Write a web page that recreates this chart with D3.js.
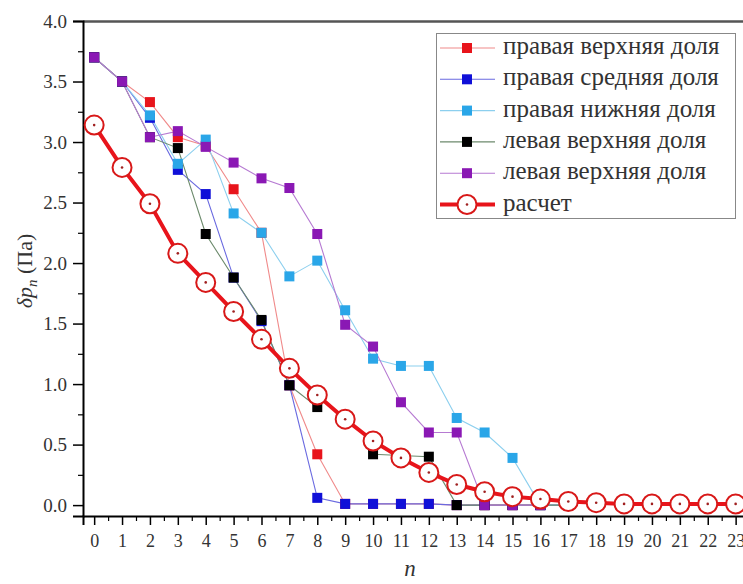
<!DOCTYPE html>
<html>
<head>
<meta charset="utf-8">
<script src="https://cdn.jsdelivr.net/npm/d3@7"></script>
<style>
  body { margin: 0; background: #fff; }
</style>
</head>
<body>
<div id="chart"></div>
<script>
// ===== PRESSURE DROP BY LOBE =====

const nValues = d3.range(0, 24);

const labels = [
  'правая верхняя доля',
  'правая средняя доля',
  'правая нижняя доля',
  'левая верхняя доля',
  'левая верхняя доля',
  'расчет'
];

// measured series (null = point not shown)
const rightUpper  = [3.70, 3.50, 3.33, 3.04, 2.97, 2.61, 2.25, 0.99, 0.42, 0.01, 0.01, 0.01, 0.01, 0.0, 0.0, 0.0, 0.0, 0.0];
const rightMiddle = [3.70, 3.50, 3.20, 2.77, 2.57, 1.88, 1.52, 0.99, 0.06, 0.01, 0.01, 0.01, 0.01, 0.0, 0.0, 0.0, 0.0, 0.0];
const rightLower  = [3.70, 3.50, 3.22, 2.82, 3.02, 2.41, 2.25, 1.89, 2.02, 1.61, 1.21, 1.15, 1.15, 0.72, 0.60, 0.39, 0.0, 0.0];
const leftUpper   = [3.70, 3.50, 3.04, 2.95, 2.24, 1.88, 1.53, 0.99, 0.81, null, 0.42, 0.41, 0.40, 0.0, 0.0, 0.0, 0.0, 0.0];
const leftUpper2  = [3.70, 3.50, 3.04, 3.09, 2.96, 2.83, 2.70, 2.62, 2.24, 1.49, 1.31, 0.85, 0.60, 0.60, 0.0, 0.0, 0.0];
// calculated curve
const calc = [3.14, 2.79, 2.49, 2.08, 1.84, 1.60, 1.37, 1.13, 0.91, 0.71, 0.53, 0.39, 0.27, 0.17, 0.11, 0.07,
              0.05, 0.03, 0.02, 0.01, 0.01, 0.01, 0.01, 0.01];

const measured = [rightUpper, rightMiddle, rightLower, leftUpper, leftUpper2];
const markerColors = ['#e8141b', '#1010d8', '#2aa6e8', '#000000', '#8a18b4'];
const lineColors   = ['#f08a8a', '#6a6ae0', '#8ccfee', '#6c8a6c', '#b67ad2'];

const FONT = "'Liberation Serif', 'Times New Roman', 'DejaVu Serif', serif";

const W = 743, H = 584;
const svg = d3.select('#chart').append('svg')
  .attr('width', W)
  .attr('height', H);

const x = d3.scaleLinear().domain([-0.4, 23.3]).range([83, 744]);
const y = d3.scaleLinear().domain([-0.09, 4.0]).range([516, 21]);

// frame
svg.append('line')
  .attr('x1', 83).attr('x2', 744).attr('y1', 21.5).attr('y2', 21.5)
  .attr('stroke', '#555').attr('stroke-width', 2.5);

// axes
const xAxis = d3.axisBottom(x).tickValues(nValues).tickSize(9).tickPadding(9).tickFormat(d3.format('d'));
const gx = svg.append('g').attr('transform', 'translate(0,516)').call(xAxis);
gx.selectAll('.tick line').attr('stroke-width', 1.5);
gx.select('.domain').attr('stroke-width', 2);
gx.selectAll('text').style('font-family', FONT).style('font-size', '18px').attr('fill', '#333');
svg.append('g').attr('transform', 'translate(0,516)')
  .call(d3.axisBottom(x).tickValues(nValues.map(d => d + 0.5)).tickSize(5).tickFormat(''))
  .call(g => g.select('.domain').remove())
  .selectAll('.tick line').attr('stroke-width', 1.2);

const yTicks = d3.range(0, 4.01, 0.5);
const yAxis = d3.axisLeft(y).tickValues(yTicks).tickSize(10).tickPadding(6).tickFormat(d3.format('.1f'));
const gy = svg.append('g').attr('transform', 'translate(83,0)').call(yAxis);
gy.selectAll('.tick line').attr('stroke-width', 1.5);
gy.select('.domain').attr('stroke-width', 2);
gy.selectAll('text').style('font-family', FONT).style('font-size', '19px').attr('fill', '#333');
svg.append('g').attr('transform', 'translate(83,0)')
  .call(d3.axisLeft(y).tickValues(yTicks.slice(0, -1).map(d => d + 0.25)).tickSize(5).tickFormat(''))
  .call(g => g.select('.domain').remove())
  .selectAll('.tick line').attr('stroke-width', 1.2);

// axis titles
svg.append('text')
  .attr('x', 410).attr('y', 576)
  .attr('text-anchor', 'middle')
  .style('font-family', FONT).style('font-size', '23px').style('font-style', 'italic')
  .attr('fill', '#333')
  .text('n');

const yt = svg.append('text')
  .attr('transform', 'translate(32,271) rotate(-90)')
  .attr('text-anchor', 'middle')
  .attr('fill', '#333')
  .style('font-family', FONT).style('font-size', '22px');
yt.append('tspan').style('font-style', 'italic').text('δp');
yt.append('tspan').style('font-style', 'italic').style('font-size', '15px').attr('dy', 5).text('n');
yt.append('tspan').attr('dy', -5).text(' (Па)');

// measured series
const line = d3.line()
  .defined(d => d.v !== null)
  .x(d => x(d.n))
  .y(d => y(d.v));

const plot = svg.append('g');
measured.forEach((vals, i) => {
  const pts = vals.map((v, n) => ({ n, v }));
  plot.append('path')
    .datum(pts)
    .attr('d', line)
    .attr('fill', 'none')
    .attr('stroke', lineColors[i])
    .attr('stroke-width', 1.1);
});
measured.forEach((vals, i) => {
  const pts = vals.map((v, n) => ({ n, v })).filter(d => d.v !== null);
  plot.selectAll(null)
    .data(pts)
    .enter().append('rect')
    .attr('x', d => x(d.n) - 5)
    .attr('y', d => y(d.v) - 5)
    .attr('width', 10)
    .attr('height', 10)
    .attr('fill', markerColors[i]);
});

// calculated curve
const calcPts = calc.map((v, n) => ({ n, v }));
plot.append('path')
  .datum(calcPts)
  .attr('d', line)
  .attr('fill', 'none')
  .attr('stroke', '#e8141b')
  .attr('stroke-width', 4);
const circ = plot.selectAll(null)
  .data(calcPts)
  .enter().append('g')
  .attr('transform', d => `translate(${x(d.n)},${y(d.v)})`);
circ.append('circle').attr('r', 9.5).attr('fill', '#fff').attr('stroke', '#d81818').attr('stroke-width', 2);
circ.append('circle').attr('r', 1.3).attr('fill', '#a02020');

// legend
const lg = svg.append('g');
lg.append('rect')
  .attr('x', 436.5).attr('y', 33.5).attr('width', 299).attr('height', 185)
  .attr('fill', '#fff').attr('stroke', '#888').attr('stroke-width', 1);
labels.forEach((lab, i) => {
  const cy = 48 + i * 31.3;
  const isCalc = i === 5;
  lg.append('line')
    .attr('x1', 440).attr('x2', 495).attr('y1', cy).attr('y2', cy)
    .attr('stroke', isCalc ? '#e8141b' : lineColors[i])
    .attr('stroke-width', isCalc ? 4 : 1.1);
  if (isCalc) {
    lg.append('circle').attr('cx', 467).attr('cy', cy).attr('r', 9.5)
      .attr('fill', '#fff').attr('stroke', '#d81818').attr('stroke-width', 2);
    lg.append('circle').attr('cx', 467).attr('cy', cy).attr('r', 1.3).attr('fill', '#a02020');
  } else {
    lg.append('rect').attr('x', 462).attr('y', cy - 5).attr('width', 10).attr('height', 10)
      .attr('fill', markerColors[i]);
  }
  lg.append('text')
    .attr('x', 503).attr('y', cy + 6)
    .attr('fill', '#333')
    .style('font-family', FONT).style('font-size', '25px')
    .text(lab);
});
</script>
</body>
</html>
